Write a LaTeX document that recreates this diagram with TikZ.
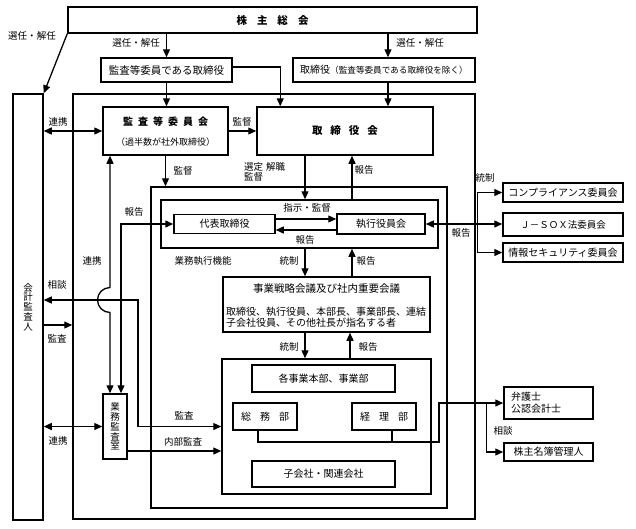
\documentclass[tikz,border=0pt]{standalone}
\usepackage{fontspec}
\setmainfont{Noto Sans CJK JP}
\usetikzlibrary{arrows.meta,calc}
\tikzset{
  ln/.style={line width=1.3pt},
  bx/.style={draw, line width=1.5pt, inner sep=0pt, align=center, font=\fontsize{10}{12}\selectfont},
  frm/.style={draw, line width=1.5pt, inner sep=0pt},
  arr/.style={line width=1.3pt, -{Triangle[length=8pt,width=7pt]}},
  arrb/.style={line width=1.3pt, {Triangle[length=8pt,width=7pt]}-{Triangle[length=8pt,width=7pt]}},
  lbl/.style={inner sep=0pt, font=\fontsize{9.5}{11}\selectfont},
}
\begin{document}
\begin{tikzpicture}[x=1pt,y=-1pt]
\fill[white] (0,0) rectangle (636,528);
\useasboundingbox (0,0) rectangle (636,528);
% frames
\node[frm, minimum width=402pt, minimum height=425pt] (frame1) at (274,306.5) {};
\node[frm, minimum width=296pt, minimum height=321pt] (frame2) at (299,347.5) {};
\node[frm, minimum width=277pt, minimum height=48pt] (exec) at (299.5,224) {};
\node[frm, minimum width=209pt, minimum height=135pt] (frame3) at (326.5,426.5) {};
% boxes
\node[bx, minimum width=409pt, minimum height=26pt, font=\fontsize{10.5}{12}\selectfont\bfseries] (kabu) at (272.5,20) {株\hspace{10pt}主\hspace{10pt}総\hspace{10pt}会};
\node[bx, minimum width=131pt, minimum height=24pt, font=\fontsize{10.5}{12}\selectfont] (kdir) at (166.5,70) {監査等委員である取締役};
\node[bx, minimum width=182pt, minimum height=24pt] (dir) at (384,70) {取締役{\fontsize{8.6}{10}\selectfont（監査等委員である取締役を除く）}};
\node[bx, minimum width=30pt, minimum height=426pt, font=\fontsize{9.5}{9.8}\selectfont] (kaikei) at (28,307) {会\\計\\監\\査\\人};
\node[bx, minimum width=125pt, minimum height=48pt] (kcomm) at (165.5,131) {};
\node[lbl, font=\fontsize{10}{12}\selectfont\bfseries] (kcommt) at ($(kcomm.north)+(0,15)$) {監\hspace{5pt}査\hspace{5pt}等\hspace{5pt}委\hspace{5pt}員\hspace{5pt}会};
\node[lbl, font=\fontsize{9}{11}\selectfont] (kcommp) at ($(kcomm.north)+(0,36)$) {（過半数が社外取締役）};
\node[bx, minimum width=176pt, minimum height=48pt, font=\fontsize{10.5}{12}\selectfont\bfseries] (board) at (345,131) {取\hspace{8pt}締\hspace{8pt}役\hspace{8pt}会};
\node[bx, minimum width=101pt, minimum height=19pt] (ceo) at (224.5,224) {代表取締役};
\node[bx, minimum width=88pt, minimum height=20pt] (eboard) at (381,224) {執行役員会};
\node[bx, minimum width=207pt, minimum height=55pt] (strat) at (326.5,304.5) {};
\node[lbl, font=\fontsize{10.5}{12}\selectfont] (stratt) at ($(strat.north)+(0,12)$) {事業戦略会議及び社内重要会議};
\node[lbl, font=\fontsize{10}{10.5}\selectfont, align=left, anchor=west] (stratm) at (226,317) {取締役、執行役員、本部長、事業部長、連結\\子会社役員、その他社長が指名する者};
\node[bx, minimum width=143pt, minimum height=27pt] (bu) at (323.5,378.5) {各事業本部、事業部};
\node[bx, minimum width=64pt, minimum height=27pt] (soumu) at (265,416.5) {総\hspace{9pt}務\hspace{9pt}部};
\node[bx, minimum width=64pt, minimum height=27pt] (keiri) at (384,416.5) {経\hspace{9pt}理\hspace{9pt}部};
\node[bx, minimum width=143pt, minimum height=26pt] (sub) at (323.5,474) {子会社・関連会社};
\node[bx, minimum width=24pt, minimum height=65pt, font=\fontsize{9.5}{9.8}\selectfont] (audit) at (115,426.5) {業\\務\\監\\査\\室};
\node[bx, minimum width=120pt, minimum height=19pt] (comp) at (563,192.5) {コンプライアンス委員会};
\node[bx, minimum width=120pt, minimum height=23pt, font=\fontsize{9.5}{12}\selectfont] (jsox) at (563,224.5) {Ｊ－ＳＯＸ法委員会};
\node[bx, minimum width=120pt, minimum height=19pt] (info) at (563,252.5) {情報セキュリティ委員会};
\node[bx, minimum height=32pt, text width=75pt, inner xsep=7pt, align=left, font=\fontsize{10}{12}\selectfont] (lawyer) at (548.5,403) {弁護士\\公認会計士};
\node[bx, minimum width=89pt, minimum height=18pt] (registrar) at (548.5,452) {株主名簿管理人};
% connectors
\draw[arr] (kabu.south west) -- (kaikei.north east);
\draw[arr] (kdir.north |- kabu.south) -- (kdir.north);
\coordinate (c1) at ($(dir.north)+(4,0)$);
\draw[arr] (c1 |- kabu.south) -- (c1);
\draw[arr] (kdir.south) -- (kdir.south |- kcomm.north);
\coordinate (c2) at ($(board.north west)+(24,0)$);
\coordinate (c2a) at ($(kdir.east)+(0,-3)$);
\draw[arr] (c2a) -| (c2);
\coordinate (c3) at ($(dir.south)+(4,0)$);
\draw[arr] (c3) -- (c3 |- board.north);
\draw[arr] (kcomm.east) -- (kcomm.east -| board.west);
\draw[arrb] (kcomm.west -| kaikei.east) -- (kcomm.west);
\draw[arr] (kcomm.south) -- (kcomm.south |- frame2.north);
\coordinate (c4) at ($(board.south)+(-40,0)$);
\draw[arr] (c4) -- (c4 |- exec.north);
\coordinate (c5) at ($(board.south)+(7,0)$);
\draw[arr] (c5 |- exec.north) -- (c5);
\draw[arr] ($(ceo.east)+(0,-5)$) -- ($(eboard.west)+(0,-5)$);
\draw[arr] ($(eboard.west)+(0,6)$) -- ($(ceo.east)+(0,6)$);
\coordinate (c6) at ($(audit.north)+(6,0)$);
\draw[arrb] (c6) |- (ceo.west);
\coordinate (s1) at (138,300);
\coordinate (c7) at ($(audit.north)+(-5,0)$);
\coordinate (j1) at ($(c7 |- s1)+(0,12.5)$);
\draw[arrb] (c7) -- (j1) arc[start angle=270,end angle=90,radius=12.5pt] -- (c7 |- kcomm.south);
\draw[arrb] (kaikei.east |- s1) -- (s1) |- (frame3.west);
\coordinate (c8) at ($(kaikei.east)+(0,18)$);
\draw[arr] (c8) -- (c8 -| frame1.west);
\draw[arrb] (audit.west -| kaikei.east) -- (audit.west);
\coordinate (c9) at ($(audit.east)+(0,24.5)$);
\draw[arr] (c9) -- (c9 -| frame3.west);
\coordinate (t1) at ($(strat.north)+(-21.5,0)$);
\draw[arr] (t1 |- exec.south) -- (t1);
\coordinate (t2) at ($(strat.north)+(25.5,0)$);
\draw[arr] (t2) -- (t2 |- exec.south);
\coordinate (t3) at ($(strat.south)+(-21.5,0)$);
\draw[arr] (t3) -- (t3 |- frame3.north);
\coordinate (t4) at ($(strat.south)+(23.5,0)$);
\draw[arr] (t4 |- frame3.north) -- (t4);
\coordinate (r1) at (439,442);
\coordinate (so1) at ($(soumu.south)+(-7,0)$);
\draw[arr] (so1) |- (r1) |- (lawyer.west);
\coordinate (k1) at ($(keiri.south)+(8,0)$);
\draw[ln] (k1) -- (k1 |- r1);
\coordinate (r2) at ($(lawyer.west)+(-17,0)$);
\draw[arr] (r2) |- (registrar.west);
\draw[arrb] (eboard.east) -- (eboard.east -| jsox.west);
\coordinate (v1) at ($(jsox.west)+(-25,0)$);
\draw[arrb] (comp.west) -| (v1) |- (info.west);
% labels
\node[lbl] (l1) at (32,36) {選任・解任};
\node[lbl] (l2) at (136,43) {選任・解任};
\node[lbl] (l3) at (420,43) {選任・解任};
\node[lbl] (l4) at (58,122) {連携};
\node[lbl] (l5) at (242,122) {監督};
\node[lbl] (l6) at (183,171) {監督};
\node[lbl, align=left, anchor=west, font=\fontsize{9.5}{10}\selectfont] (l7) at (244,172) {選定\hspace{3pt}解職\\監督};
\node[lbl] (l8) at (364,170) {報告};
\node[lbl] (l9) at (134,212) {報告};
\node[lbl] (l10) at (307,208) {指示・監督};
\node[lbl] (l11) at (305,240) {報告};
\node[lbl] (l12) at (92,261) {連携};
\node[lbl] (l13) at (203,261) {業務執行機能};
\node[lbl] (l14) at (289,261) {統制};
\node[lbl] (l15) at (366,261) {報告};
\node[lbl] (l16) at (57,285) {相談};
\node[lbl] (l17) at (57,339) {監査};
\node[lbl] (l18) at (289,347) {統制};
\node[lbl] (l19) at (368,347) {報告};
\node[lbl] (l20) at (184,416) {監査};
\node[lbl] (l21) at (183,442) {内部監査};
\node[lbl] (l22) at (58,441) {連携};
\node[lbl] (l23) at (485,178) {統制};
\node[lbl] (l24) at (461,233) {報告};
\node[lbl] (l25) at (503,431) {相談};
\end{tikzpicture}
\end{document}
